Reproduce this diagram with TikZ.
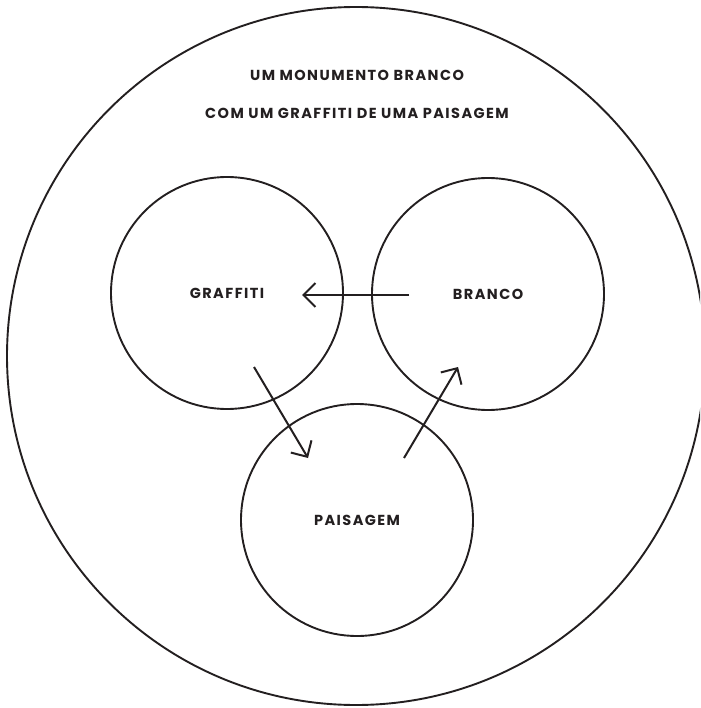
\documentclass[tikz,border=0pt]{standalone}
\usepackage{fontspec}
\setmainfont{Poppins Bold}[LetterSpace=10]
\usetikzlibrary{arrows.meta}
\definecolor{ink}{RGB}{35,31,32}
\begin{document}
\begin{tikzpicture}[x=1pt,y=-1pt,
  ring/.style={circle,draw=ink,line width=1.9pt,minimum size=#1,inner sep=0pt},
  lbl/.style={text=ink,font=\fontsize{14.5}{16}\selectfont,inner sep=0pt},
  flow/.style={draw=ink,line width=2pt,-{Straight Barb[length=12pt,width=24pt]}}]
\useasboundingbox (0,0) rectangle (700,708);
\begin{scope}
\clip (0,0) rectangle (700,708);
\node[ring=698pt] (world) at (356,356) {};
\end{scope}
\node[lbl] (t1) at (357,75) {UM MONUMENTO BRANCO};
\node[lbl] (t2) at (357,113) {COM UM GRAFFITI DE UMA PAISAGEM};
\node[ring=232pt,lbl] (graffiti) at (227,293) {GRAFFITI};
\node[ring=232pt,lbl] (branco) at (488,294) {BRANCO};
\node[ring=232pt,lbl] (paisagem) at (357,520) {PAISAGEM};
\coordinate (bs) at (409,295);
\coordinate (ge) at (302,295);
\coordinate (gs) at (254,367);
\coordinate (pe) at (308,458);
\coordinate (ps) at (404,458);
\coordinate (be) at (458,367);
\draw[flow] (bs) -- (ge);
\draw[flow] (gs) -- (pe);
\draw[flow] (ps) -- (be);
\end{tikzpicture}
\end{document}
